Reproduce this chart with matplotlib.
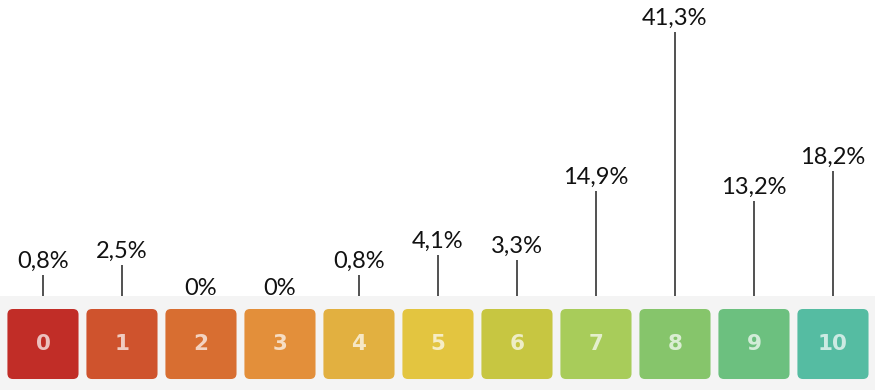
import numpy as np
import matplotlib.pyplot as plt
from matplotlib.patches import FancyBboxPatch, Rectangle

# scores and share of answers (%)
scores = list(range(11))
shares = [0.8, 2.5, 0.0, 0.0, 0.8, 4.1, 3.3, 14.9, 41.3, 13.2, 18.2]
share_labels = ['0,8%', '2,5%', '0%', '0%', '0,8%', '4,1%', '3,3%',
                '14,9%', '41,3%', '13,2%', '18,2%']
box_colors = ['#c12d27', '#cf532d', '#d86e31', '#e38f3a', '#e2b040',
              '#e3c540', '#c7c641', '#a8cc5a', '#86c56b', '#6cc07f',
              '#55bca2']

fig = plt.figure(figsize=(8.75, 3.9), dpi=100)
ax = fig.add_axes([0, 0, 1, 1])
ax.set_xlim(-0.544, 10.532)
ax.set_ylim(-17, 48)
ax.axis('off')

band_top = -1.33
stem_pad = 1.33

# grey strip behind the boxes
ax.add_patch(Rectangle((-0.6, -17), 11.6, 17 + band_top,
                       facecolor='#f4f4f4', edgecolor='none', zorder=0))

for s, v, lab, c in zip(scores, shares, share_labels, box_colors):
    ax.add_patch(FancyBboxPatch((s - 0.45, -15.17), 0.9, 11.67,
                                boxstyle='round,pad=0,rounding_size=0.07',
                                mutation_aspect=79 / 6,
                                facecolor=c, edgecolor='none', zorder=2))
    ax.text(s, -9.35, str(s), ha='center', va='center', fontsize=15.5,
            fontweight='bold', color='white', alpha=0.7,
            family='DejaVu Sans', zorder=3)
    if v > 0:
        top = v + stem_pad
        ax.plot([s, s], [band_top, top], color='#222222', lw=1.1,
                solid_capstyle='butt', zorder=1)
        ax.text(s, top + 1.2, lab, ha='center', va='baseline',
                fontsize=17, family='Lato', color='#111111')
    else:
        ax.text(s, band_top + 0.2, lab, ha='center', va='baseline',
                fontsize=17, family='Lato', color='#111111')

fig.savefig('out.png', dpi=100)
